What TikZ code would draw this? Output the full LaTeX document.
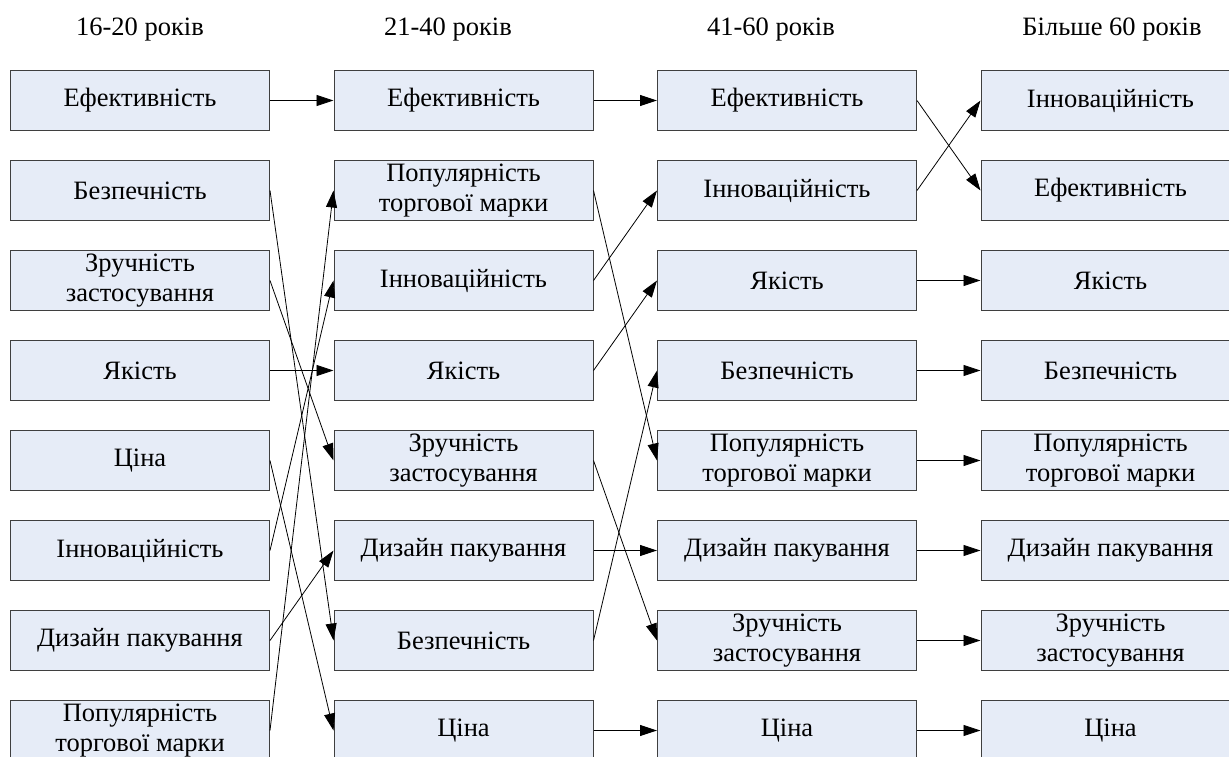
\documentclass[tikz,border=0pt]{standalone}
\usepackage{fontspec}
\setmainfont{Liberation Serif}
\usetikzlibrary{arrows.meta}
\definecolor{boxfill}{HTML}{E6ECF7}
\definecolor{boxline}{HTML}{3F3F3F}
\tikzset{
  cell/.style={draw=boxline, fill=boxfill, line width=1pt, minimum width=259pt, minimum height=60pt,
    inner sep=0pt, align=center, font=\fontsize{26.5}{30}\selectfont, anchor=north west},
  hdr/.style={font=\fontsize{26.5}{30}\selectfont, inner sep=0pt, anchor=base},
  conn/.style={line width=0.8pt, -{Triangle[length=17pt,width=11pt]}}
}
\begin{document}
\begin{tikzpicture}[x=1pt,y=-1pt]
\useasboundingbox (0,0) rectangle (1229,756);
\clip (0,0) rectangle (1229,756);
% headers
\node[hdr] (h1) at (140,35) {16-20 років};
\node[hdr] (h2) at (448,35) {21-40 років};
\node[hdr] (h3) at (771,35) {41-60 років};
\node[hdr] (h4) at (1112,35) {Більше 60 років};
% column 1
\node[cell] (a1) at (10,70) {Ефективність};
\node[cell] (a2) at (10,160) {Безпечність};
\node[cell] (a3) at (10,250) {Зручність\\застосування};
\node[cell] (a4) at (10,340) {Якість};
\node[cell] (a5) at (10,430) {Ціна};
\node[cell] (a6) at (10,520) {Інноваційність};
\node[cell] (a7) at (10,610) {Дизайн пакування};
\node[cell] (a8) at (10,700) {Популярність\\торгової марки};
% column 2
\node[cell] (b1) at (333.5,70) {Ефективність};
\node[cell] (b2) at (333.5,160) {Популярність\\торгової марки};
\node[cell] (b3) at (333.5,250) {Інноваційність};
\node[cell] (b4) at (333.5,340) {Якість};
\node[cell] (b5) at (333.5,430) {Зручність\\застосування};
\node[cell] (b6) at (333.5,520) {Дизайн пакування};
\node[cell] (b7) at (333.5,610) {Безпечність};
\node[cell] (b8) at (333.5,700) {Ціна};
% column 3
\node[cell] (c1) at (657,70) {Ефективність};
\node[cell] (c2) at (657,160) {Інноваційність};
\node[cell] (c3) at (657,250) {Якість};
\node[cell] (c4) at (657,340) {Безпечність};
\node[cell] (c5) at (657,430) {Популярність\\торгової марки};
\node[cell] (c6) at (657,520) {Дизайн пакування};
\node[cell] (c7) at (657,610) {Зручність\\застосування};
\node[cell] (c8) at (657,700) {Ціна};
% column 4
\node[cell] (d1) at (980.5,70) {Інноваційність};
\node[cell] (d2) at (980.5,160) {Ефективність};
\node[cell] (d3) at (980.5,250) {Якість};
\node[cell] (d4) at (980.5,340) {Безпечність};
\node[cell] (d5) at (980.5,430) {Популярність\\торгової марки};
\node[cell] (d6) at (980.5,520) {Дизайн пакування};
\node[cell] (d7) at (980.5,610) {Зручність\\застосування};
\node[cell] (d8) at (980.5,700) {Ціна};
% connectors col1 -> col2
\draw[conn] (a1.east) -- (b1.west);
\draw[conn] (a2.east) -- (b7.west);
\draw[conn] (a3.east) -- (b5.west);
\draw[conn] (a4.east) -- (b4.west);
\draw[conn] (a5.east) -- (b8.west);
\draw[conn] (a6.east) -- (b3.west);
\draw[conn] (a7.east) -- (b6.west);
\draw[conn] (a8.east) -- (b2.west);
% col2 -> col3
\draw[conn] (b1.east) -- (c1.west);
\draw[conn] (b2.east) -- (c5.west);
\draw[conn] (b3.east) -- (c2.west);
\draw[conn] (b4.east) -- (c3.west);
\draw[conn] (b5.east) -- (c7.west);
\draw[conn] (b6.east) -- (c6.west);
\draw[conn] (b7.east) -- (c4.west);
\draw[conn] (b8.east) -- (c8.west);
% col3 -> col4
\draw[conn] (c1.east) -- (d2.west);
\draw[conn] (c2.east) -- (d1.west);
\draw[conn] (c3.east) -- (d3.west);
\draw[conn] (c4.east) -- (d4.west);
\draw[conn] (c5.east) -- (d5.west);
\draw[conn] (c6.east) -- (d6.west);
\draw[conn] (c7.east) -- (d7.west);
\draw[conn] (c8.east) -- (d8.west);
\end{tikzpicture}
\end{document}
